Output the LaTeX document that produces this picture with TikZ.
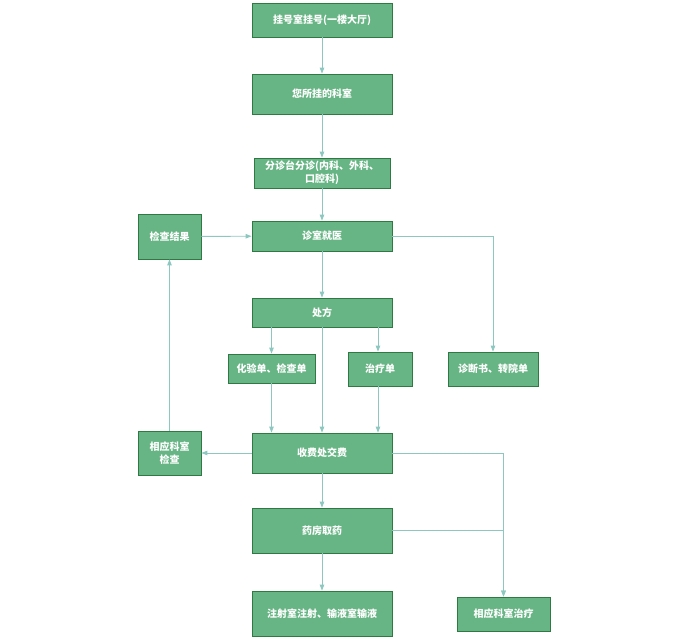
\documentclass[tikz,border=0pt]{standalone}
\usepackage{fontspec}
\newfontfamily\cjk{Noto Sans CJK SC}
\usetikzlibrary{arrows.meta}
\definecolor{boxgreen}{RGB}{103,181,132}
\definecolor{boxedge}{RGB}{46,122,66}
\definecolor{flow}{RGB}{140,200,192}
\begin{document}
\begin{tikzpicture}[x=1pt,y=-1pt,
		stepbox/.style={draw=boxedge, fill=boxgreen, text=white, font=\cjk\bfseries\fontsize{10}{13}\selectfont, align=center, inner sep=0pt, line width=0.8pt},
		flowline/.style={draw=flow, line width=0.9pt, -{Triangle[length=6pt,width=4.5pt]}}]
					
					\useasboundingbox (0,0) rectangle (689,642);
					\node[stepbox, minimum width=140, minimum height=34] (reg) at (322,20) {挂号室挂号(一楼大厅)};
					\node[stepbox, minimum width=140, minimum height=40] (dept) at (322,94) {您所挂的科室};
					\node[stepbox, minimum width=136, minimum height=30, text width=130] (triage) at (322,173) {分诊台分诊(内科、外科、\\口腔科)};
					\node[stepbox, minimum width=140, minimum height=30] (clinic) at (322,236) {诊室就医};
					\node[stepbox, minimum width=63, minimum height=45] (result) at (169.5,236.5) {检查结果};
					\node[stepbox, minimum width=140, minimum height=29] (rx) at (322,312.5) {处方};
					\node[stepbox, minimum width=87, minimum height=29] (lab) at (271.5,368.5) {化验单、检查单};
					\node[stepbox, minimum width=64, minimum height=34] (treat) at (380,369) {治疗单};
					\node[stepbox, minimum width=90, minimum height=34] (diag) at (493,369) {诊断书、转院单};
					\node[stepbox, minimum width=63, minimum height=44] (check) at (169.5,453) {相应科室\\检查};
					\node[stepbox, minimum width=140, minimum height=40] (pay) at (322,453) {收费处交费};
					\node[stepbox, minimum width=140, minimum height=45] (pharm) at (322,530.5) {药房取药};
					\node[stepbox, minimum width=140, minimum height=45] (inj) at (322,613.5) {注射室注射、输液室输液};
					\node[stepbox, minimum width=93, minimum height=34] (dtreat) at (503.5,614) {相应科室治疗};
					
					\draw[flowline] (reg) -- (dept);
					\draw[flowline] (dept) -- (triage);
					\draw[flowline] (triage) -- (clinic);
					\draw[flowline] (result) -- (clinic);
					\draw[flowline] (clinic) -- (rx);
					\draw[flowline] (clinic.east) -| (diag.north);
					\draw[flowline] (lab.north |- rx.south) -- (lab.north);
					\draw[flowline] ([xshift=-2]treat.north |- rx.south) -- ([xshift=-2]treat.north);
					\draw[flowline] (rx) -- (pay);
					\draw[flowline] (lab.south) -- (lab.south |- pay.north);
					\draw[flowline] ([xshift=-2]treat.south) -- ([xshift=-2]treat.south |- pay.north);
					\draw[flowline] (pay) -- (check);
					\draw[flowline] (check) -- (result);
					\draw[flowline] (pay) -- (pharm);
					\draw[flowline] (pay.east) -| (dtreat.north);
					\draw[flowline] (pharm.east) -| (dtreat.north);
					\draw[flowline] (pharm) -- (inj);
					\end{tikzpicture}
\end{document}
